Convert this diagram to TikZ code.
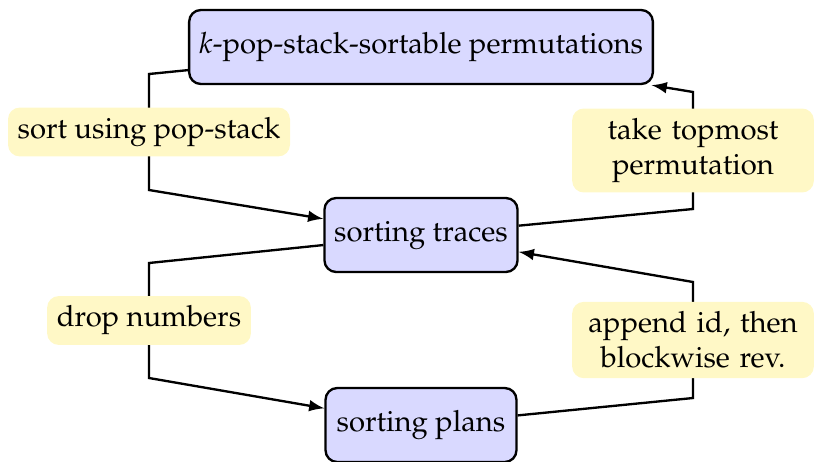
\documentclass[tikz,border=0pt]{standalone}
\usepackage[T1]{fontenc}
\usepackage{mathpazo}
\usetikzlibrary{arrows,positioning}
\definecolor{stageblue}{RGB}{217,217,255}
\definecolor{tagyellow}{RGB}{255,248,198}

\begin{document}
\begin{tikzpicture}[
    x=0.342pt, y=-0.342pt,
    stage/.style={rectangle, draw, thick, rounded corners=4pt, fill=stageblue, minimum width=65.3pt, minimum height=25.3pt, align=center},
    tag/.style={rectangle, rounded corners=4pt, fill=tagyellow, inner sep=3.33pt, align=center},
    widetag/.style={tag, text width=76pt},
    arrow/.style={-latex, thick}
]
    \useasboundingbox (0,0) rectangle (814,461);

    \node[stage] (perms) at (421,47) {$k$-pop-stack-sortable permutations};
    \node[stage] (traces) at (421,235) {sorting traces};
    \node[stage] (plans) at (421,425) {sorting plans};

    \draw[arrow] (perms) -- (149,74) -- node[tag] (sort) {sort using pop-stack} (149,190) -- (traces);
    \draw[arrow] (traces) -- (693,209) -- node[widetag] (top) {take topmost\\permutation} (693,92) -- (perms);
    \draw[arrow] (traces) -- (149,263) -- node[tag] (drop) {drop numbers} (149,378) -- (plans);
    \draw[arrow] (plans) -- (693,398) -- node[widetag] (rev) {append id, then\\blockwise rev.} (693,282) -- (traces);
\end{tikzpicture}
\end{document}
